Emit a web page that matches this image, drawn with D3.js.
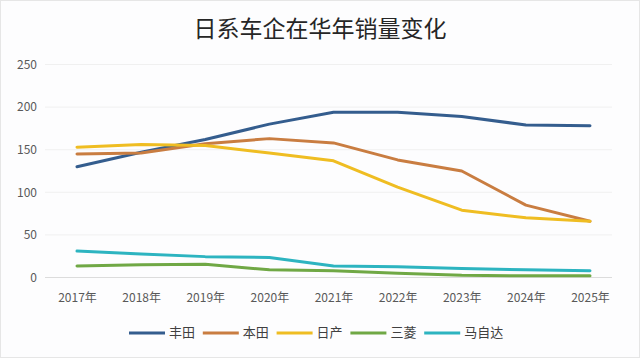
<!DOCTYPE html>
<html><head><meta charset="utf-8">
<script src="https://cdn.jsdelivr.net/npm/d3@7"></script>
<style>
html,body{margin:0;padding:0;background:#fff;}
svg{display:block;}
</style></head>
<body>
<svg id="chart" width="640" height="358"></svg>
<script>
const title = "日系车企在华年销量变化";
const years = ["2017年","2018年","2019年","2020年","2021年","2022年","2023年","2024年","2025年"];
const seriesNames = ["丰田","本田","日产","三菱","马自达"];
const toyota     = [130, 147, 162, 180, 194, 194, 189, 179, 178];
const honda      = [145, 146, 157, 163, 158, 138, 125, 85, 66];
const nissan     = [153, 156, 155, 146, 137, 106, 79, 70, 66];
const mitsubishi = [13.5, 15, 15.5, 9, 8, 5, 2.5, 2, 2];
const mazda      = [31, 27.5, 24.5, 23.5, 13.5, 12.5, 10.5, 9, 8];
const yTicks = [0, 50, 100, 150, 200, 250];
const colors = ["#345d8e", "#c97d41", "#efbd22", "#70a845", "#2db4c0"];

const seriesValues = [toyota, honda, nissan, mitsubishi, mazda];
const W = 640, H = 358;
const svg = d3.select("#chart");
svg.append("rect").attr("x",0.5).attr("y",0.5).attr("width",W-1).attr("height",H-1)
  .attr("fill","#fdfdfe").attr("stroke","#e6e6e6");

svg.append("text").attr("x", 320).attr("y", 31).attr("text-anchor","middle")
  .attr("dominant-baseline","middle")
  .style("font-family","'Noto Sans CJK SC'").style("font-size","23px").style("font-weight","400")
  .attr("fill","#262626").text(title);

const x = d3.scalePoint().domain(years).range([77, 590]);
const y = d3.scaleLinear().domain([0, 250]).range([277.5, 64.5]);

// gridlines
svg.append("g").selectAll("line").data(yTicks).join("line")
  .attr("x1", 45).attr("x2", 612)
  .attr("y1", d => y(d)).attr("y2", d => y(d))
  .attr("stroke", d => d === 0 ? "#dcdcdc" : "#f0f0f0").attr("stroke-width", 1);

// y axis
const yAxis = d3.axisLeft(y).tickValues(yTicks).tickSize(0).tickPadding(0);
const gy = svg.append("g").attr("transform","translate(37,0)").call(yAxis);
gy.select(".domain").remove();
gy.selectAll("text").style("font-family","'Noto Sans CJK SC'").style("font-size","12px").attr("fill","#595959");

// x axis
const xAxis = d3.axisBottom(x).tickSize(0).tickPadding(0);
const gx = svg.append("g").attr("transform","translate(0,293)").call(xAxis);
gx.select(".domain").remove();
gx.selectAll("text").style("font-family","'Noto Sans CJK SC'").style("font-size","12px").attr("fill","#595959");

// lines
const line = d3.line().x((d,i) => x(years[i])).y(d => y(d));
svg.append("g").selectAll("path").data(seriesValues).join("path")
  .attr("d", d => line(d))
  .attr("fill","none")
  .attr("stroke", (d,i) => colors[i])
  .attr("stroke-width", 3)
  .attr("stroke-linejoin","round").attr("stroke-linecap","round");

// legend
const lg = svg.append("g").attr("transform","translate(129,333)");
const itemW = 73.8;
seriesNames.forEach((name, i) => {
  const g = lg.append("g").attr("transform", `translate(${i*itemW},0)`);
  g.append("line").attr("x1",0).attr("x2",36).attr("y1",0).attr("y2",0)
    .attr("stroke", colors[i]).attr("stroke-width",3);
  g.append("text").attr("x",40).attr("y",0).attr("dominant-baseline","middle")
    .style("font-family","'Noto Sans CJK SC'").style("font-size","13px").attr("fill","#404040")
    .text(name);
});
</script>
</body></html>
